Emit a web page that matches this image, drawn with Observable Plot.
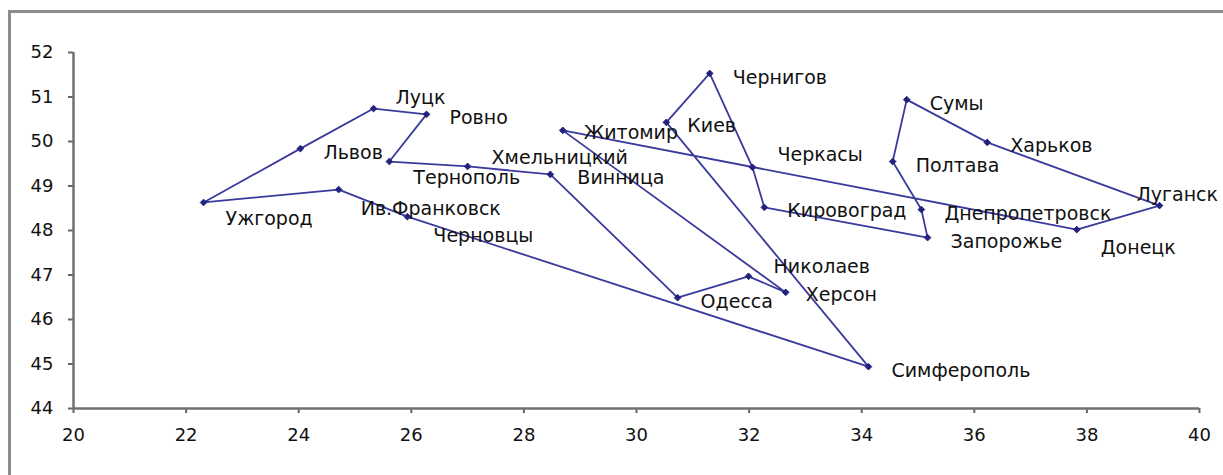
<!DOCTYPE html>
<html>
<head>
<meta charset="utf-8">
<script src="https://cdn.jsdelivr.net/npm/d3@7"></script>
<script src="https://cdn.jsdelivr.net/npm/@observablehq/plot@0.6"></script>
<style>
  html, body { margin: 0; padding: 0; background: #fff; overflow: hidden; }
  #wrap { position: relative; width: 1223px; height: 475px; }
  #frame { position: absolute; left: 8px; top: 10px; width: 1400px; height: 700px;
           border: 3px solid #8c8c8c; pointer-events: none; box-sizing: border-box; }
  #chart { position: absolute; left: 0; top: 0; }
</style>
</head>
<body>
<div id="wrap"><div id="chart"></div><div id="frame"></div></div>
<script>
// Cities in tour order (longitude, latitude)
const cityNames = ["Ужгород", "Львов", "Луцк", "Ровно", "Тернополь", "Хмельницкий", "Винница",
  "Одесса", "Николаев", "Херсон", "Житомир", "Донецк", "Луганск", "Харьков", "Сумы", "Полтава",
  "Днепропетровск", "Запорожье", "Кировоград", "Черкасы", "Чернигов", "Киев", "Симферополь",
  "Черновцы", "Ив.Франковск"];
const longitudes = [22.31, 24.03, 25.33, 26.27, 25.61, 27.00, 28.47,
  30.73, 31.99, 32.65, 28.69, 37.82, 39.29, 36.23, 34.80, 34.55,
  35.06, 35.17, 32.27, 32.06, 31.30, 30.53, 34.12,
  25.93, 24.71];
const latitudes = [48.63, 49.84, 50.74, 50.61, 49.55, 49.44, 49.26,
  46.49, 46.97, 46.61, 50.25, 48.02, 48.56, 49.98, 50.94, 49.55,
  48.47, 47.84, 48.52, 49.42, 51.53, 50.43, 44.94,
  48.31, 48.92];
const xTicks = [20, 22, 24, 26, 28, 30, 32, 34, 36, 38, 40];
const yTicks = [44, 45, 46, 47, 48, 49, 50, 51, 52];

// label placement (pixel nudges, styling only)
const labelDefault = [23, 4];
const labelShift = {
  "Ужгород": [22, 16], "Луцк": [22, -11], "Тернополь": [24, 16], "Хмельницкий": [24, -9],
  "Винница": [27, 3], "Ив.Франковск": [22, 19], "Черновцы": [26, 19], "Черкасы": [25, -12],
  "Донецк": [24, 18], "Николаев": [25, -9], "Луганск": [-23, -11], "Житомир": [21, 3],
  "Киев": [21, 4], "Херсон": [20, 3]
};

const cities = cityNames.map((name, i) => ({name, lon: longitudes[i], lat: latitudes[i]}));
const tour = [...cities, cities[0]];

const lineColor = "#3a3a9c";
const dotColor = "#22227e";
const font = "DejaVu Sans";

const labelMarks = cities.map(c => {
  const [dx, dy] = labelShift[c.name] || labelDefault;
  return Plot.text([c], {x: "lon", y: "lat", text: "name", dx, dy, textAnchor: "start",
    fontSize: 19, fill: "#111", fontFamily: font});
});

const chart = Plot.plot({
  width: 1223,
  height: 475,
  marginLeft: 73,
  marginRight: 24,
  marginTop: 52,
  marginBottom: 67,
  style: {fontFamily: font, background: "transparent", overflow: "visible"},
  x: {domain: [20, 40], ticks: xTicks},
  y: {domain: [44, 52], ticks: yTicks},
  marks: [
    Plot.axisX({ticks: xTicks, tickSize: 5, tickPadding: 15, fontSize: 18, stroke: "#666", strokeWidth: 2, fill: "#111", label: null}),
    Plot.axisY({ticks: yTicks, tickSize: 5, tickPadding: 15, fontSize: 18, stroke: "#666", strokeWidth: 2, fill: "#111", label: null}),
    Plot.ruleY([44], {stroke: "#707070", strokeWidth: 2.5}),
    Plot.ruleX([20], {stroke: "#707070", strokeWidth: 2.5}),
    Plot.line(tour, {x: "lon", y: "lat", stroke: lineColor, strokeWidth: 1.8}),
    Plot.dot(cities, {x: "lon", y: "lat", symbol: "diamond2", r: 3, fill: dotColor, stroke: dotColor, strokeWidth: 1}),
    ...labelMarks
  ]
});
document.getElementById("chart").appendChild(chart);
</script>
</body>
</html>
